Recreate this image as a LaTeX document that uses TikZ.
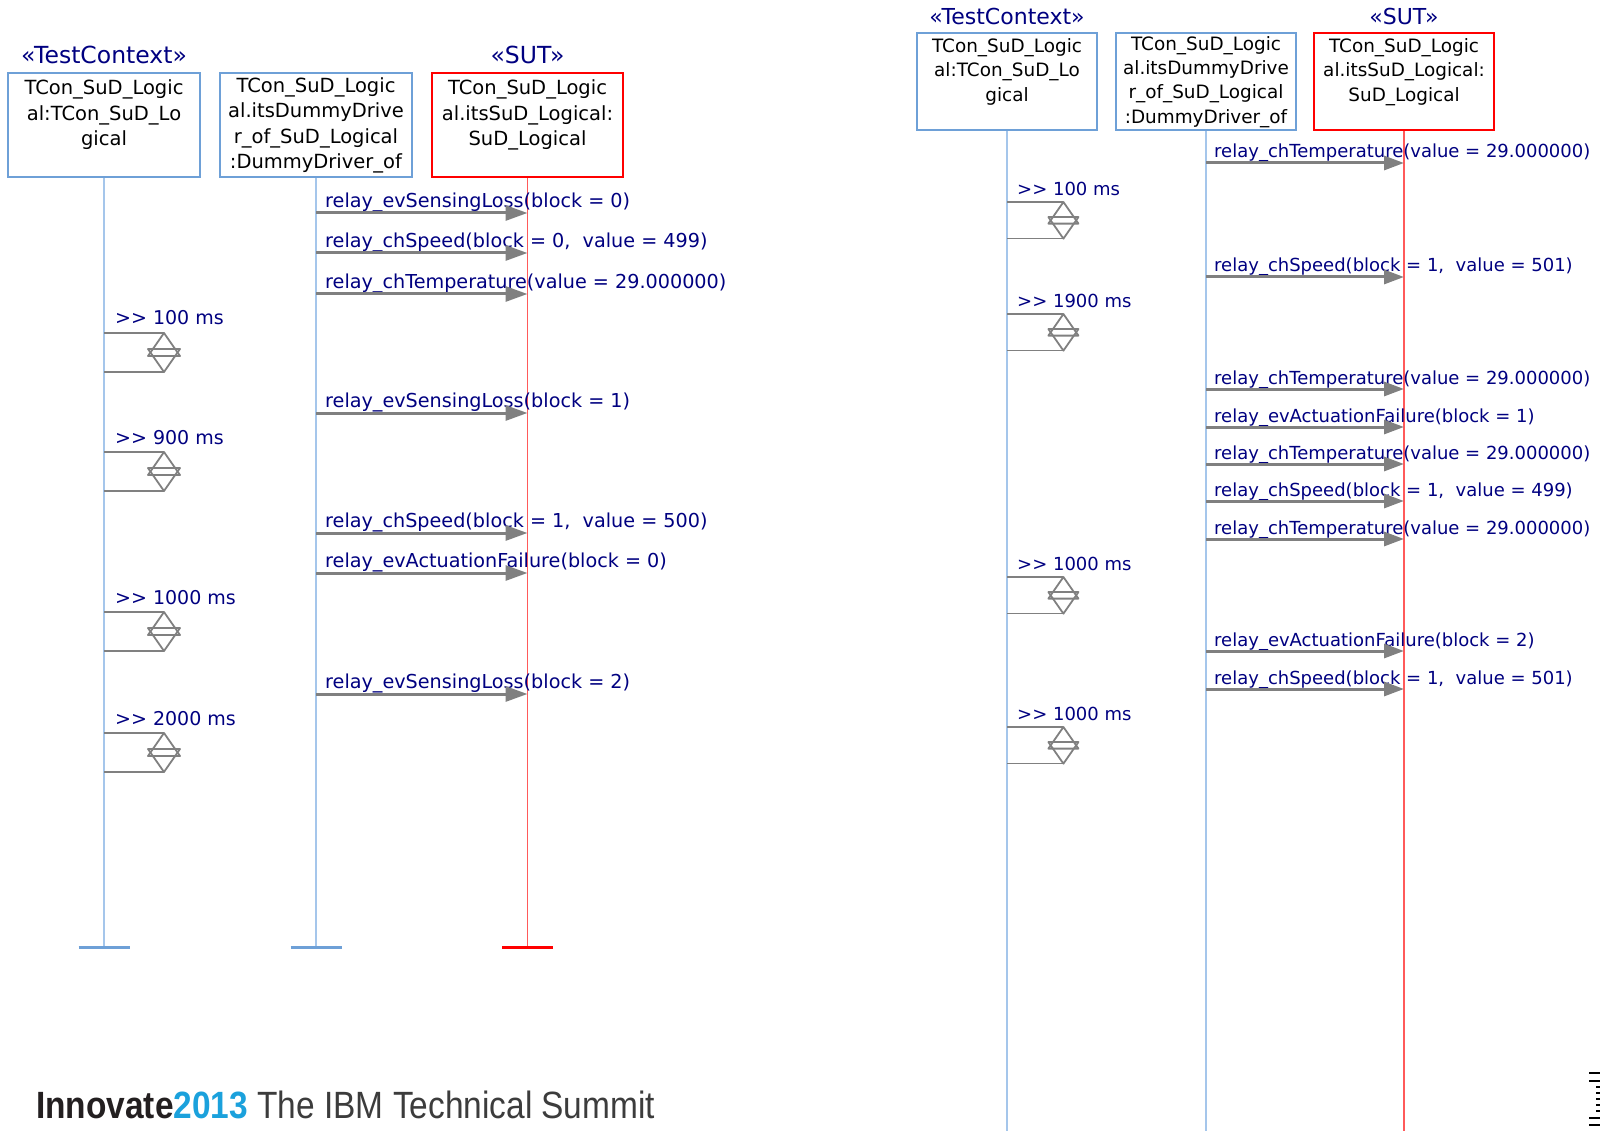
\documentclass[tikz,border=0pt]{standalone}
\usepackage{fontspec}
\setmainfont{DejaVu Sans}
\newfontfamily\footfont{Liberation Sans}
\usetikzlibrary{arrows.meta,positioning}
\definecolor{navytxt}{RGB}{0,0,128}
\definecolor{boxblue}{RGB}{110,160,215}
\definecolor{lifeblue}{RGB}{165,198,235}
\definecolor{msggray}{RGB}{128,128,128}
\definecolor{sutred}{RGB}{255,0,0}
\definecolor{lifered}{RGB}{255,90,90}
\definecolor{ibmcyan}{RGB}{27,161,220}
\definecolor{ibmdark}{RGB}{35,31,32}
\definecolor{ibmgray}{RGB}{60,60,60}

\begin{document}
\begin{tikzpicture}[x=1pt,y=-1pt,
  objbox/.style={draw=boxblue,line width=2pt,align=center,inner sep=0pt,font=\fontsize{19.5}{25.5}\selectfont},
  objboxR/.style={objbox,font=\fontsize{18.4}{24.3}\selectfont},
  stereo/.style={text=navytxt,inner sep=0pt,font=\fontsize{23.5}{26}\selectfont},
  stereoR/.style={stereo,font=\fontsize{22}{24}\selectfont},
  life/.style={draw=lifeblue,line width=1.6pt},
  lifesut/.style={draw=lifered,line width=1.4pt},
  endbar/.style={draw=boxblue,line width=3pt},
  msg/.style={draw=msggray,line width=3pt,-{Triangle[length=22pt,width=15pt]}},
  msgR/.style={msg,-{Triangle[length=20pt,width=14pt]}},
  lbl/.style={anchor=base west,text=navytxt,inner sep=0pt,xshift=9pt,yshift=5.5pt,font=\fontsize{19.2}{23}\selectfont},
  lblR/.style={anchor=base west,text=navytxt,inner sep=0pt,xshift=8pt,yshift=5pt,font=\fontsize{18}{22}\selectfont},
  tmrtxt/.style={anchor=base west,text=navytxt,inner sep=0pt,xshift=11pt,yshift=8pt,font=\fontsize{19}{23}\selectfont},
  tmrtxtR/.style={anchor=base west,text=navytxt,inner sep=0pt,xshift=10pt,yshift=6.5pt,font=\fontsize{18}{22}\selectfont},
  pics/timer/.style={code={
    \draw[msggray,line width=1.5pt] (0,0) -- (60,0) (0,39) -- (60,39);
    \draw[msggray,line width=1.8pt,line join=round] (60,0) -- (76,23) -- (44,23) -- cycle;
    \draw[msggray,line width=1.8pt,line join=round] (60,39) -- (76,16) -- (44,16) -- cycle;
  }}
]
\useasboundingbox (0,0) rectangle (1600,1131);

% left diagram: lifelines
\node[objbox,minimum width=192,minimum height=104] (ctxL) at (104,125.5) {TCon\_SuD\_Logic\\al:TCon\_SuD\_Lo\\gical\\~};
\node[objbox,minimum width=192,minimum height=104] (drvL) at (316,125.5) {TCon\_SuD\_Logic\\al.itsDummyDrive\\r\_of\_SuD\_Logical\\:DummyDriver\_of};
\node[objbox,draw=sutred,minimum width=191,minimum height=104] (sutL) at (527.5,125.5) {TCon\_SuD\_Logic\\al.itsSuD\_Logical:\\SuD\_Logical\\~};
\node[stereo] (stCtxL) at (104,55) {«TestContext»};
\node[stereo] (stSutL) at (527.5,55) {«SUT»};
\coordinate (ctxLend) at (104,947);
\coordinate (drvLend) at (316,947);
\coordinate (sutLend) at (527.5,947);
\draw[life] (ctxL.south) -- (ctxLend);
\draw[life] (drvL.south) -- (drvLend);
\draw[lifesut] (sutL.south) -- (sutLend);
\draw[endbar] ([xshift=-25.5pt]ctxLend) -- ([xshift=25.5pt]ctxLend);
\draw[endbar] ([xshift=-25.5pt]drvLend) -- ([xshift=25.5pt]drvLend);
\draw[endbar,draw=sutred] ([xshift=-25.5pt]sutLend) -- ([xshift=25.5pt]sutLend);

% left diagram: messages
\coordinate (l1a) at (316,213); \coordinate (l1b) at (527.5,213);
\node[lbl] (l1t) at (l1a) {relay\_evSensingLoss(block = 0)}; \draw[msg] (l1a) -- (l1b);
\coordinate (l2a) at (316,253); \coordinate (l2b) at (527.5,253);
\node[lbl] (l2t) at (l2a) {relay\_chSpeed(block = 0,\ \ value = 499)}; \draw[msg] (l2a) -- (l2b);
\coordinate (l3a) at (316,294); \coordinate (l3b) at (527.5,294);
\node[lbl] (l3t) at (l3a) {relay\_chTemperature(value = 29.000000)}; \draw[msg] (l3a) -- (l3b);
\coordinate (l4a) at (316,413); \coordinate (l4b) at (527.5,413);
\node[lbl] (l4t) at (l4a) {relay\_evSensingLoss(block = 1)}; \draw[msg] (l4a) -- (l4b);
\coordinate (l5a) at (316,533); \coordinate (l5b) at (527.5,533);
\node[lbl] (l5t) at (l5a) {relay\_chSpeed(block = 1,\ \ value = 500)}; \draw[msg] (l5a) -- (l5b);
\coordinate (l6a) at (316,573); \coordinate (l6b) at (527.5,573);
\node[lbl] (l6t) at (l6a) {relay\_evActuationFailure(block = 0)}; \draw[msg] (l6a) -- (l6b);
\coordinate (l7a) at (316,694); \coordinate (l7b) at (527.5,694);
\node[lbl] (l7t) at (l7a) {relay\_evSensingLoss(block = 2)}; \draw[msg] (l7a) -- (l7b);

% left diagram: timers
\coordinate (lt1) at (104,333); \pic at (lt1) {timer}; \node[tmrtxt] (lt1t) at (lt1) {{>}{>} 100 ms};
\coordinate (lt2) at (104,452); \pic at (lt2) {timer}; \node[tmrtxt] (lt2t) at (lt2) {{>}{>} 900 ms};
\coordinate (lt3) at (104,612); \pic at (lt3) {timer}; \node[tmrtxt] (lt3t) at (lt3) {{>}{>} 1000 ms};
\coordinate (lt4) at (104,733); \pic at (lt4) {timer}; \node[tmrtxt] (lt4t) at (lt4) {{>}{>} 2000 ms};

% right diagram: lifelines
\node[objboxR,minimum width=180,minimum height=97] (ctxR) at (1007,82) {TCon\_SuD\_Logic\\al:TCon\_SuD\_Lo\\gical\\~};
\node[objboxR,minimum width=180,minimum height=97] (drvR) at (1206,82) {TCon\_SuD\_Logic\\al.itsDummyDrive\\r\_of\_SuD\_Logical\\:DummyDriver\_of};
\node[objboxR,draw=sutred,minimum width=180,minimum height=97] (sutR) at (1404,82) {TCon\_SuD\_Logic\\al.itsSuD\_Logical:\\SuD\_Logical\\~};
\node[stereoR] (stCtxR) at (1007,16.5) {«TestContext»};
\node[stereoR] (stSutR) at (1404,16.5) {«SUT»};
\coordinate (ctxRend) at (1007,1131);
\coordinate (drvRend) at (1206,1131);
\coordinate (sutRend) at (1404,1131);
\draw[life] (ctxR.south) -- (ctxRend);
\draw[life] (drvR.south) -- (drvRend);
\draw[lifesut] (sutR.south) -- (sutRend);

% right diagram: messages
\coordinate (r1a) at (1206,163); \coordinate (r1b) at (1404,163);
\node[lblR] (r1t) at (r1a) {relay\_chTemperature(value = 29.000000)}; \draw[msgR] (r1a) -- (r1b);
\coordinate (r2a) at (1206,277); \coordinate (r2b) at (1404,277);
\node[lblR] (r2t) at (r2a) {relay\_chSpeed(block = 1,\ \ value = 501)}; \draw[msgR] (r2a) -- (r2b);
\coordinate (r3a) at (1206,389); \coordinate (r3b) at (1404,389);
\node[lblR] (r3t) at (r3a) {relay\_chTemperature(value = 29.000000)}; \draw[msgR] (r3a) -- (r3b);
\coordinate (r4a) at (1206,427); \coordinate (r4b) at (1404,427);
\node[lblR] (r4t) at (r4a) {relay\_evActuationFailure(block = 1)}; \draw[msgR] (r4a) -- (r4b);
\coordinate (r5a) at (1206,464); \coordinate (r5b) at (1404,464);
\node[lblR] (r5t) at (r5a) {relay\_chTemperature(value = 29.000000)}; \draw[msgR] (r5a) -- (r5b);
\coordinate (r6a) at (1206,501); \coordinate (r6b) at (1404,501);
\node[lblR] (r6t) at (r6a) {relay\_chSpeed(block = 1,\ \ value = 499)}; \draw[msgR] (r6a) -- (r6b);
\coordinate (r7a) at (1206,539); \coordinate (r7b) at (1404,539);
\node[lblR] (r7t) at (r7a) {relay\_chTemperature(value = 29.000000)}; \draw[msgR] (r7a) -- (r7b);
\coordinate (r8a) at (1206,651); \coordinate (r8b) at (1404,651);
\node[lblR] (r8t) at (r8a) {relay\_evActuationFailure(block = 2)}; \draw[msgR] (r8a) -- (r8b);
\coordinate (r9a) at (1206,689); \coordinate (r9b) at (1404,689);
\node[lblR] (r9t) at (r9a) {relay\_chSpeed(block = 1,\ \ value = 501)}; \draw[msgR] (r9a) -- (r9b);

% right diagram: timers
\coordinate (rt1) at (1007,202); \pic[scale=0.94] at (rt1) {timer}; \node[tmrtxtR] (rt1t) at (rt1) {{>}{>} 100 ms};
\coordinate (rt2) at (1007,314); \pic[scale=0.94] at (rt2) {timer}; \node[tmrtxtR] (rt2t) at (rt2) {{>}{>} 1900 ms};
\coordinate (rt3) at (1007,577); \pic[scale=0.94] at (rt3) {timer}; \node[tmrtxtR] (rt3t) at (rt3) {{>}{>} 1000 ms};
\coordinate (rt4) at (1007,727); \pic[scale=0.94] at (rt4) {timer}; \node[tmrtxtR] (rt4t) at (rt4) {{>}{>} 1000 ms};

% footer
\node[anchor=base west,inner sep=0pt] (footer) at (36,1118) {\scalebox{0.88}[1]{\footfont\fontsize{38}{40}\selectfont\textcolor{ibmdark}{\bfseries Innovate}\textcolor{ibmcyan}{\bfseries 2013}\ \textcolor{ibmgray}{The IBM Technical Summit}}};
\foreach \yy in {1073,1081,1118,1125} \fill[black] (1589,\yy-1.3) rectangle (1600,\yy+1.3);
\foreach \yy in {1087,1093,1099,1105,1111} \fill[black] (1596,\yy-1.3) rectangle (1600,\yy+1.3);
\end{tikzpicture}
\end{document}
